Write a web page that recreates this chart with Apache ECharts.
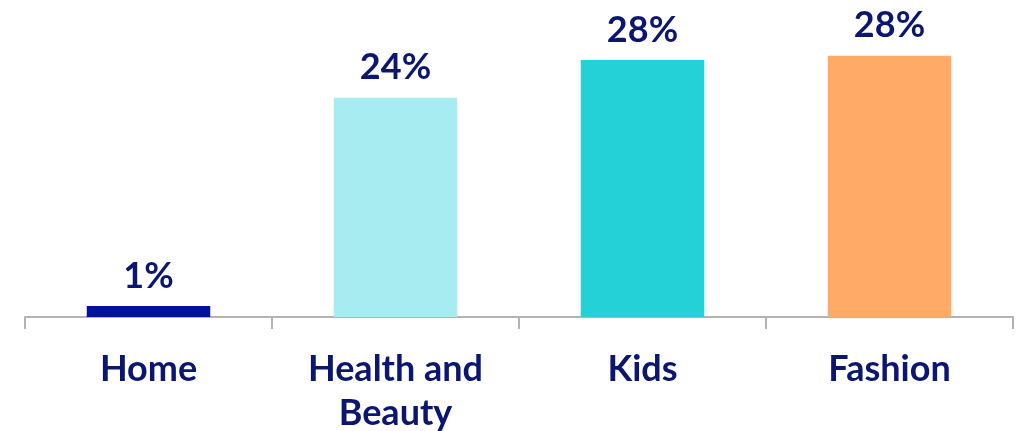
<!DOCTYPE html>
<html>
<head>
<meta charset="utf-8">
<script src="https://cdn.jsdelivr.net/npm/echarts@6/dist/echarts.min.js"></script>
<style>html,body{margin:0;padding:0;background:#fff;}#c{width:1023px;height:431px;}</style>
</head>
<body>
<div id="c"></div>
<script>
const categories = ["Home", "Health and\nBeauty", "Kids", "Fashion"];
const values = [1.2, 24.0, 28.15, 28.6];
const valueLabels = ["1%", "24%", "28%", "28%"];
const barColors = ["#00119A", "#A6ECF0", "#24D1D7", "#FFAA66"];

const chart = echarts.init(document.getElementById('c'), null, {renderer: 'canvas'});
const textColor = '#0B1673';
chart.setOption({
  animation: false,
  grid: {left: 25, right: 10, top: 43, bottom: 114, outerBoundsMode: 'none', containLabel: false},
  xAxis: {
    type: 'category',
    data: categories,
    axisLine: {lineStyle: {color: '#B3B3B3', width: 2}},
    axisTick: {show: true, length: 12, lineStyle: {color: '#B3B3B3', width: 2}},
    axisLabel: {
      color: textColor, fontFamily: 'Lato', fontWeight: 'bold', fontSize: 36,
      lineHeight: 44, margin: 30, interval: 0
    }
  },
  yAxis: {type: 'value', min: 0, max: 30, show: false, splitLine: {show: false}},
  series: [{
    type: 'bar',
    barWidth: '50%',
    data: values.map((v, i) => ({value: v, itemStyle: {color: barColors[i]}})),
    label: {
      show: true, position: 'top', distance: 12,
      color: textColor, fontFamily: 'Lato', fontWeight: 'bold', fontSize: 36,
      formatter: p => valueLabels[p.dataIndex]
    }
  }]
});
</script>
</body>
</html>
